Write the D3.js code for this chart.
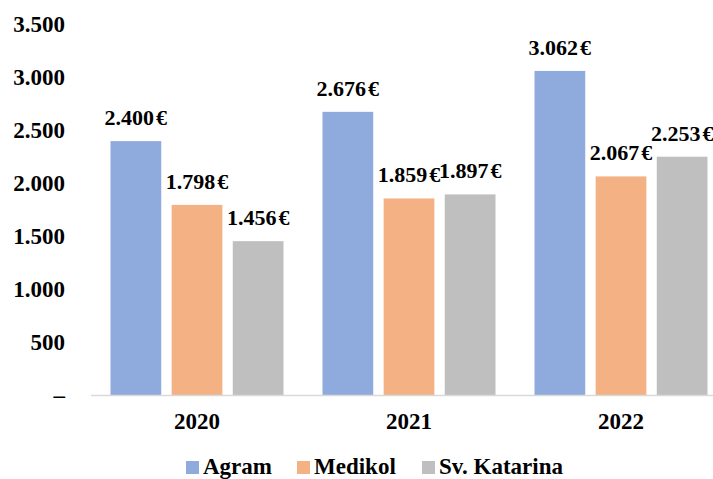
<!DOCTYPE html>
<html>
<head>
<meta charset="utf-8">
<script src="https://d3js.org/d3.v7.min.js"></script>
<style>
  body { margin: 0; background: #fff; }
  text { font-family: "Liberation Serif", "Times New Roman", serif; font-weight: bold; fill: #000; }
</style>
</head>
<body>
<div id="chart"></div>
<script>
// data
const years = ["2020", "2021", "2022"];
const series = ["Agram", "Medikol", "Sv. Katarina"];
const agram = [2400, 2676, 3062];
const medikol = [1798, 1859, 2067];
const svKatarina = [1456, 1897, 2253];
const yTicks = [0, 500, 1000, 1500, 2000, 2500, 3000, 3500];
const colors = ["#8FAADC", "#F4B183", "#BFBFBF"];

const values = [agram, medikol, svKatarina];
const rows = years.map((yr, i) => ({ year: yr, vals: series.map((s, j) => ({ key: s, idx: j, v: values[j][i] })) }));

const W = 713, H = 479;
const svg = d3.select("#chart").append("svg").attr("width", W).attr("height", H);

const y = d3.scaleLinear().domain([0, 3500]).range([395.5, 24.5]);
const x0 = d3.scaleBand().domain(years).range([91, 727]);
const x1 = d3.scaleBand().domain(series).range([19.5, 192.5]).paddingInner(0.17);

const num = v => d3.format(",")(v).replace(/,/g, ".");

// y tick labels
svg.selectAll(".ytick").data(yTicks).enter().append("text")
  .attr("x", 65).attr("y", d => y(d)).attr("dy", "0.33em")
  .attr("text-anchor", "end").style("font-size", "23px")
  .text(d => d === 0 ? "–" : num(d));

// bars
const g = svg.selectAll(".grp").data(rows).enter().append("g")
  .attr("transform", d => `translate(${x0(d.year)},0)`);

g.selectAll("rect").data(d => d.vals).enter().append("rect")
  .attr("x", d => x1(d.key)).attr("width", x1.bandwidth())
  .attr("y", d => y(d.v)).attr("height", d => y(0) - y(d.v))
  .attr("fill", d => colors[d.idx]);

const lbl = g.selectAll(".lbl").data(d => d.vals).enter().append("text")
  .attr("x", d => x1(d.key) + x1.bandwidth() / 2)
  .attr("y", d => y(d.v) - 16)
  .attr("text-anchor", "middle").style("font-size", "22px");
lbl.append("tspan").text(d => num(d.v));
lbl.append("tspan").attr("dx", 2).text("€");

// axis line
svg.append("line").attr("x1", 91).attr("x2", W).attr("y1", 395.5).attr("y2", 395.5)
  .attr("stroke", "#D9D9D9").attr("stroke-width", 1.5);

// year labels
svg.selectAll(".xl").data(years).enter().append("text")
  .attr("x", d => x0(d) + x0.bandwidth() / 2).attr("y", 429)
  .attr("text-anchor", "middle").style("font-size", "23px")
  .text(d => d);

// legend
const legX = [186, 297, 422];
const leg = svg.selectAll(".leg").data(series).enter().append("g")
  .attr("transform", (d, i) => `translate(${legX[i]},461)`);
leg.append("rect").attr("width", 13).attr("height", 13).attr("fill", (d, i) => colors[i]);
leg.append("text").attr("x", 17).attr("y", 13).style("font-size", "23px").text(d => d);
</script>
</body>
</html>
